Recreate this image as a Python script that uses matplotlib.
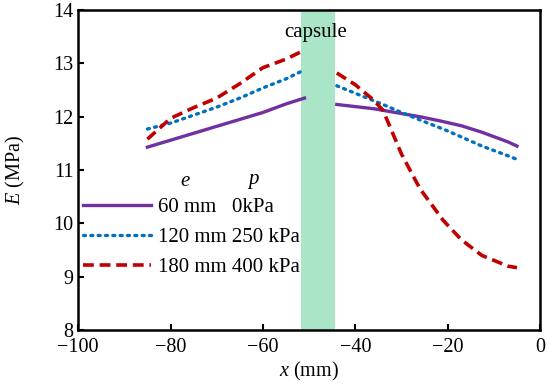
import matplotlib
matplotlib.use('Agg')
import matplotlib.pyplot as plt

plt.rcParams['font.family'] = 'Liberation Serif'
plt.rcParams['mathtext.fontset'] = 'custom'
plt.rcParams['mathtext.rm'] = 'Liberation Serif'
plt.rcParams['mathtext.it'] = 'Liberation Serif:italic'

# positions along the tube (mm), left and right of the capsule
x_left = [-85, -80, -75, -70, -65, -60, -55, -51]
x_right = [-44, -40, -36, -34, -30, -26, -21, -17, -12.6, -7, -5]

e60_left = [11.43, 11.56, 11.69, 11.82, 11.95, 12.08, 12.24, 12.35]
e60_right = [12.23, 12.19, 12.15, 12.12, 12.06, 12.00, 11.91, 11.83, 11.71, 11.53, 11.45]

e120_left = [11.77, 11.88, 12.03, 12.18, 12.35, 12.54, 12.71, 12.88]
e120_right = [12.58, 12.44, 12.30, 12.23, 12.08, 11.94, 11.77, 11.62, 11.45, 11.27, 11.2]

e180_left = [11.58, 11.97, 12.17, 12.35, 12.62, 12.92, 13.08, 13.25]
e180_right = [12.82, 12.6, 12.31, 12.12, 11.3, 10.65, 10.06, 9.69, 9.40, 9.20, 9.17]

labels = ['60 mm   0kPa', '120 mm 250 kPa', '180 mm 400 kPa']
capsule = (-51.7, -44.5)

fig, ax = plt.subplots(figsize=(5.5, 3.87), dpi=100)
fig.subplots_adjust(left=0.142, right=0.982, top=0.974, bottom=0.147)

ax.axvspan(capsule[0], capsule[1], color='#a9e5c6', lw=0, zorder=0)

purple, blue, red = '#7030a0', '#0070c0', '#c00000'
l1, = ax.plot(x_left, e60_left, color=purple, lw=2.4, label=labels[0])
ax.plot(x_right, e60_right, color=purple, lw=2.4)
l2, = ax.plot(x_left, e120_left, color=blue, lw=2.4, ls=(0, (0.6, 1.6)),
              dash_capstyle='round', label=labels[1])
ax.plot(x_right, e120_right, color=blue, lw=2.4, ls=(0, (0.6, 1.6)), dash_capstyle='round')
l3, = ax.plot(x_left, e180_left, color=red, lw=2.6, ls=(0, (3, 1.6)), label=labels[2])
ax.plot(x_right, e180_right, color=red, lw=2.6, ls=(0, (3, 1.6)))

ax.text(-48.5, 13.57, 'capsule', fontsize=15, ha='center', va='center')

ax.legend(handles=[l1, l2, l3], loc='upper left', bbox_to_anchor=(-0.008, 0.44),
          frameon=False, fontsize=15, handlelength=3.27, handletextpad=0.33,
          labelspacing=0.5, borderaxespad=0)
ax.text(-76.8, 10.78, '$\\it{e}$', fontsize=15, ha='center', va='center')
ax.text(-62.1, 10.78, '$\\it{p}$', fontsize=15, ha='center', va='center')

ax.set_xlim(-100, 0)
ax.set_ylim(8, 14)
ax.set_xticks(range(-100, 1, 20))
ax.set_yticks(range(8, 15))
ax.tick_params(direction='in', length=4, width=1.5, labelsize=14.5)
ax.tick_params(axis='x', pad=6)
for s in ax.spines.values():
    s.set_linewidth(1.8)
ax.set_xlabel('$\\it{x}$ (mm)', fontsize=14.5, labelpad=2)
ax.set_ylabel('$\\it{E}$ (MPa)', fontsize=14.5, labelpad=19)

plt.savefig('out.png', dpi=100)
